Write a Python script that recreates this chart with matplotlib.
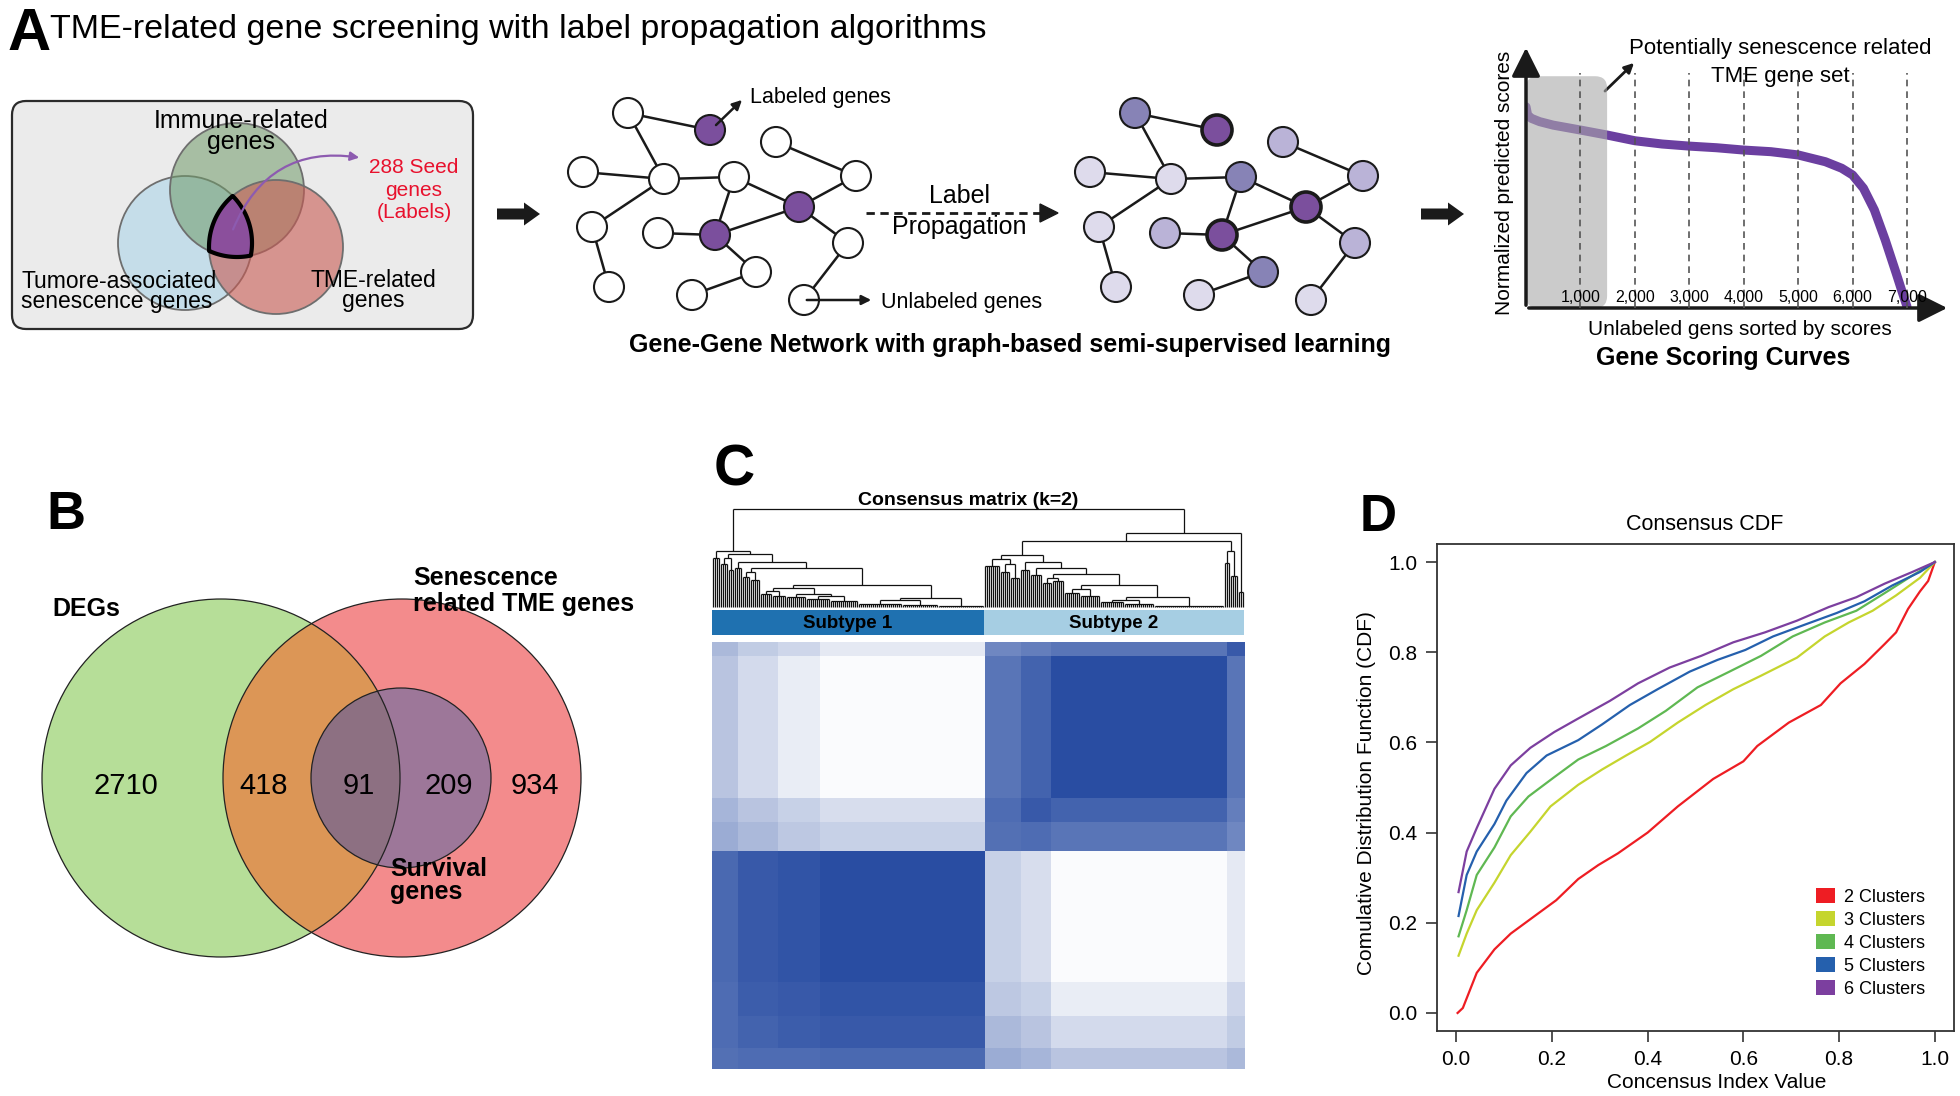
import numpy as np
import matplotlib
matplotlib.use("Agg")
import matplotlib.pyplot as plt
from matplotlib import font_manager
from matplotlib.patches import Circle, Polygon, FancyBboxPatch, FancyArrow, FancyArrowPatch, Patch
from matplotlib.collections import LineCollection
from matplotlib.colors import LinearSegmentedColormap, to_rgba


def font_ok(name):
    try:
        font_manager.findfont(font_manager.FontProperties(family=name), fallback_to_default=False)
        return True
    except ValueError:
        return False


SANS = "Liberation Sans" if font_ok("Liberation Sans") else "DejaVu Sans"
plt.rcParams["font.family"] = SANS

""" ----- data ----- """

# A - seed gene sets and the label propagation network
seed_sets = ["Immune-related\ngenes", "Tumore-associated\nsenescence genes", "TME-related\ngenes"]
seed_label = "288 Seed\ngenes\n(Labels)"
net_edges = [(0, 1), (0, 4), (3, 4), (4, 5), (4, 8), (8, 13), (5, 10), (5, 7),
             (2, 6), (6, 7), (7, 10), (9, 10), (10, 12), (12, 14), (7, 11), (11, 15)]
net_labeled = [1, 7, 10]
# shade of each node after propagation (0 = weak ... 3 = labeled)
net_propagated = [2, 3, 1, 0, 0, 2, 1, 3, 0, 1, 3, 1, 2, 0, 0, 0]

# A - gene scoring curve
score_rank = [0, 30, 100, 250, 500, 1000, 1500, 2000, 2500, 3000, 3500, 4000, 4500,
              5000, 5500, 5800, 6000, 6200, 6400, 6600, 6800, 6900, 7000]
score_value = [0.864, 0.828, 0.814, 0.80, 0.785, 0.764, 0.742, 0.718, 0.704, 0.695, 0.688, 0.678, 0.671,
               0.657, 0.628, 0.60, 0.571, 0.514, 0.421, 0.292, 0.15, 0.077, 0.006]
score_ticks = [1000, 2000, 3000, 4000, 5000, 6000, 7000]
score_tick_labels = ["1,000", "2,000", "3,000", "4,000", "5,000", "6,000", "7,000"]
top_set_end = 1490

# B - Venn
venn_names = ["DEGs", "Senescence\nrelated TME genes", "Survival\ngenes"]
venn_counts = [2710, 418, 91, 209, 934]

# C - consensus matrix (k=2), samples grouped along the dendrogram order
subtypes = ["Subtype 1", "Subtype 2"]
subtype_size = [136, 130]
group_size = [13, 20, 21, 82, 18, 15, 88, 9]
group_consensus = [
    [0.78, 0.80, 0.80, 0.82, 0.45, 0.40, 0.32, 0.38],
    [0.80, 0.85, 0.88, 0.90, 0.38, 0.32, 0.20, 0.28],
    [0.80, 0.88, 0.90, 0.93, 0.30, 0.25, 0.10, 0.22],
    [0.82, 0.90, 0.93, 0.97, 0.25, 0.18, 0.02, 0.12],
    [0.45, 0.38, 0.30, 0.25, 0.78, 0.80, 0.75, 0.65],
    [0.40, 0.32, 0.25, 0.18, 0.80, 0.90, 0.85, 0.70],
    [0.32, 0.20, 0.10, 0.02, 0.75, 0.85, 0.97, 0.75],
    [0.38, 0.28, 0.22, 0.12, 0.65, 0.70, 0.75, 0.90],
]
# dendrogram: [height, left, right]; (n leaves, height) = small bundle
dend_left = [0.57,
             (4, 0.50),
             [0.54,
              [0.50, (4, 0.44), (3, 0.38)],
              [0.46,
               (4, 0.40),
               [0.40,
                [0.36, (4, 0.31), (5, 0.28)],
                [0.22,
                 [0.19,
                  [0.16, (6, 0.13), (7, 0.11)],
                  [0.13, (10, 0.10), [0.11, (12, 0.08), (14, 0.06)]]],
                 [0.09, [0.07, (22, 0.03), (18, 0.02)], (23, 0.01)]]]]]]
dend_right = [0.76,
              [0.67,
               [0.53,
                [0.49, (8, 0.42), [0.44, (5, 0.36), (5, 0.30)]],
                [0.46, (5, 0.38),
                 [0.40, (6, 0.33),
                  [0.34,
                   [0.30, (5, 0.24), (6, 0.27)],
                   [0.22,
                    [0.18, (8, 0.14), (10, 0.11)],
                    [0.10, [0.07, (12, 0.05), (15, 0.03)], (35, 0.01)]]]]]],
               [0.57, (3, 0.45), (4, 0.32)]],
              (3, 0.15)]

# D - consensus CDF
cdf_k2_x = [0.003, 0.014, 0.043, 0.08, 0.114, 0.164, 0.209, 0.255, 0.297, 0.338, 0.40, 0.463, 0.537,
            0.60, 0.629, 0.695, 0.762, 0.803, 0.853, 0.895, 0.919, 0.944, 0.969, 0.986, 1.0]
cdf_k2_y = [0.0, 0.011, 0.089, 0.141, 0.176, 0.215, 0.25, 0.297, 0.328, 0.354, 0.40, 0.458, 0.519,
            0.558, 0.592, 0.644, 0.683, 0.731, 0.774, 0.818, 0.844, 0.896, 0.935, 0.958, 1.0]
cdf_k3_x = [0.005, 0.022, 0.043, 0.08, 0.114, 0.155, 0.197, 0.255, 0.305, 0.355, 0.405, 0.463, 0.521,
            0.579, 0.637, 0.712, 0.77, 0.82, 0.87, 0.919, 0.969, 1.0]
cdf_k3_y = [0.127, 0.176, 0.228, 0.289, 0.35, 0.402, 0.458, 0.506, 0.54, 0.571, 0.601, 0.644, 0.683,
            0.718, 0.748, 0.788, 0.835, 0.866, 0.892, 0.926, 0.965, 1.0]
cdf_k4_x = [0.005, 0.022, 0.043, 0.08, 0.114, 0.151, 0.205, 0.255, 0.313, 0.38, 0.438, 0.504, 0.571,
            0.637, 0.703, 0.77, 0.836, 0.895, 0.953, 1.0]
cdf_k4_y = [0.17, 0.228, 0.306, 0.367, 0.436, 0.48, 0.523, 0.562, 0.592, 0.631, 0.67, 0.722, 0.757,
            0.792, 0.835, 0.866, 0.892, 0.931, 0.97, 1.0]
cdf_k5_x = [0.005, 0.022, 0.043, 0.08, 0.105, 0.147, 0.189, 0.255, 0.305, 0.363, 0.421, 0.488, 0.546,
            0.604, 0.662, 0.728, 0.795, 0.853, 0.911, 0.969, 1.0]
cdf_k5_y = [0.215, 0.306, 0.358, 0.419, 0.471, 0.532, 0.571, 0.605, 0.64, 0.683, 0.718, 0.757, 0.783,
            0.805, 0.835, 0.861, 0.887, 0.913, 0.948, 0.978, 1.0]
cdf_k6_x = [0.005, 0.022, 0.043, 0.08, 0.114, 0.155, 0.205, 0.255, 0.321, 0.38, 0.446, 0.512, 0.579,
            0.645, 0.712, 0.778, 0.836, 0.895, 0.953, 1.0]
cdf_k6_y = [0.268, 0.358, 0.41, 0.497, 0.549, 0.588, 0.623, 0.653, 0.692, 0.731, 0.766, 0.792, 0.822,
            0.844, 0.87, 0.90, 0.922, 0.952, 0.978, 1.0]
cdf_labels = ["2 Clusters", "3 Clusters", "4 Clusters", "5 Clusters", "6 Clusters"]
cdf_ticks = [0.0, 0.2, 0.4, 0.6, 0.8, 1.0]
cdf_tick_labels = ["0.0", "0.2", "0.4", "0.6", "0.8", "1.0"]

""" ----- figure ----- """
W, H = 1960, 1096
fig = plt.figure(figsize=(W / 100, H / 100), dpi=100)
fig.patch.set_facecolor("white")

# overlay in pixel coordinates (y going down) for the schematic parts
ov = fig.add_axes([0, 0, 1, 1])
ov.set_xlim(0, W)
ov.set_ylim(H, 0)
ov.axis("off")


def px_axes(x0, y0, x1, y1):
    return fig.add_axes([x0 / W, 1 - y1 / H, (x1 - x0) / W, (y1 - y0) / H])


PURPLE = "#7b4f9d"

# ---------------- panel A ----------------
ov.text(8, 50, "A", fontsize=43, fontweight="bold", va="baseline")
ov.text(50, 38, "TME-related gene screening with label propagation algorithms", fontsize=24.5, va="baseline")

ov.add_patch(FancyBboxPatch((12, 101), 461, 228, boxstyle="round,pad=0,rounding_size=14",
                            fc="#ebebeb", ec="#2b2b2b", lw=1.6))

r_a = 67
cen_green, cen_blue, cen_red = (237, 190), (185, 243), (276, 247)
ov.add_patch(Circle(cen_blue, r_a, fc="#c5dde9", ec="#6e6e6e", lw=1.3))
ov.add_patch(Circle(cen_green, r_a, fc=to_rgba("#6f9a68", 0.55), ec="#6e6e6e", lw=1.3))
ov.add_patch(Circle(cen_red, r_a, fc=to_rgba("#c85a52", 0.6), ec="#6e6e6e", lw=1.3))

# common part of the three sets
tt = np.linspace(0, 2 * np.pi, 2000)
cents = [cen_green, cen_blue, cen_red]
pts = []
for i, c in enumerate(cents):
    ring = np.c_[c[0] + r_a * np.cos(tt), c[1] + r_a * np.sin(tt)]
    keep = np.ones(len(ring), bool)
    for j, c2 in enumerate(cents):
        if j != i:
            keep &= np.hypot(ring[:, 0] - c2[0], ring[:, 1] - c2[1]) <= r_a
    pts.append(ring[keep])
pts = np.vstack(pts)
cc = pts.mean(0)
pts = pts[np.argsort(np.arctan2(pts[:, 1] - cc[1], pts[:, 0] - cc[0]))]
ov.add_patch(Polygon(pts, closed=True, fc="#8b4f9c", ec="black", lw=3, joinstyle="round", zorder=3))

ov.add_patch(FancyArrowPatch((232, 232), (362, 158), connectionstyle="arc3,rad=-0.4",
                             arrowstyle="-|>", mutation_scale=13, color="#8d5bb0", lw=1.6, zorder=4))

ov.text(241, 149, seed_sets[0], fontsize=18, ha="center", va="baseline", linespacing=0.85)
ov.text(21, 308, seed_sets[1], fontsize=16.5, va="baseline", linespacing=0.82)
ov.text(373, 307, seed_sets[2], fontsize=16.5, ha="center", va="baseline", linespacing=0.85, multialignment="center")
ov.text(414, 218, seed_label, fontsize=15, color="#e8112d", ha="center", va="baseline",
        linespacing=1.22, multialignment="center")

# big black arrows
for x0 in (497, 1421):
    ov.add_patch(FancyArrow(x0, 214, 43, 0, width=11, head_width=23, head_length=16,
                            length_includes_head=True, color="#1a1a1a", lw=0))

# networks
node_xy = [(628, 113), (710, 130), (776, 142), (583, 172), (664, 179), (734, 177), (856, 176),
           (799, 207), (592, 227), (658, 233), (715, 235), (848, 243), (756, 272), (609, 287),
           (692, 295), (804, 300)]
shade_col = ["#dedbec", "#bab3d7", "#8783b6", PURPLE]
for dx in (0, 507):
    for a, b in net_edges:
        ov.plot([node_xy[a][0] + dx, node_xy[b][0] + dx], [node_xy[a][1], node_xy[b][1]],
                color="#1a1a1a", lw=1.8, zorder=2)
    for i, (x, y) in enumerate(node_xy):
        if dx == 0:
            fc = PURPLE if i in net_labeled else "white"
            lw = 1.5
        else:
            fc = shade_col[net_propagated[i]]
            lw = 2.6 if net_propagated[i] == 3 else 1.5
        ov.add_patch(Circle((x + dx, y), 15, fc=fc, ec="#1a1a1a", lw=lw, zorder=3))

ov.annotate("", xy=(744, 98), xytext=(714, 127),
            arrowprops=dict(arrowstyle="-|>", color="#1a1a1a", lw=1.8, mutation_scale=14), zorder=4)
ov.text(750, 103, "Labeled genes", fontsize=15.5, va="baseline")
ov.annotate("", xy=(874, 300), xytext=(804, 300),
            arrowprops=dict(arrowstyle="-|>", color="#1a1a1a", lw=1.8, mutation_scale=14), zorder=4)
ov.text(881, 308, "Unlabeled genes", fontsize=15.5, va="baseline")

ov.plot([866, 1042], [213, 213], color="#1a1a1a", lw=2, ls=(0, (3, 2)))
ov.add_patch(Polygon([[1040, 204], [1058, 213], [1040, 222]], closed=True, color="#1a1a1a"))
ov.text(959, 203, "Label", fontsize=18, ha="center", va="baseline")
ov.text(959, 234, "Propagation", fontsize=18, ha="center", va="baseline")
ov.text(1010, 352, "Gene-Gene Network with graph-based semi-supervised learning",
        fontsize=18, fontweight="bold", ha="center", va="baseline")

# gene scoring curve
ax_s = px_axes(1526, 45, 1950, 308)
ax_s.set_facecolor("none")
ax_s.set_xlim(0, 7790)
ax_s.set_ylim(0, 1.129)
for sp in ax_s.spines.values():
    sp.set_visible(False)
ax_s.set_xticks([])
ax_s.set_yticks([])
ax_s.plot(score_rank, score_value, color="#6b3fa0", lw=6.5, solid_capstyle="round", zorder=2)
asp = (1 / 233) / (1000 / 54.43)
ax_s.add_patch(FancyBboxPatch((0, 0), top_set_end, 0.995, boxstyle="round,pad=0,rounding_size=220",
                              mutation_aspect=asp, fc="#a9a9a9", ec="none", alpha=0.6, zorder=3))
for t, lab in zip(score_ticks, score_tick_labels):
    ax_s.plot([t, t], [0, 1.01], color="#555555", lw=1.2, ls=(0, (4, 3)), zorder=4)
    ax_s.text(t, 0.043, lab, fontsize=11.5, ha="center", va="center", zorder=5)
arrow_kw = dict(arrowstyle="-|>,head_length=0.8,head_width=0.4", lw=2.5, color="#1a1a1a", mutation_scale=22)
ax_s.annotate("", xy=(0, 1), xytext=(0, 0), xycoords="axes fraction", arrowprops=arrow_kw)
ax_s.annotate("", xy=(1, 0), xytext=(0, 0), xycoords="axes fraction", arrowprops=arrow_kw)

ov.text(1780, 54, "Potentially senescence related", fontsize=16, ha="center", va="baseline")
ov.text(1780, 82, "TME gene set", fontsize=16, ha="center", va="baseline")
ov.annotate("", xy=(1636, 61), xytext=(1603, 93),
            arrowprops=dict(arrowstyle="-|>", color="#1a1a1a", lw=2, mutation_scale=14))
ov.text(1504, 183, "Normalized predicted scores", fontsize=15, rotation=90, ha="center", va="center")
ov.text(1740, 335, "Unlabeled gens sorted by scores", fontsize=15, ha="center", va="baseline")
ov.text(1723, 365, "Gene Scoring Curves", fontsize=18, fontweight="bold", ha="center", va="baseline")

# ---------------- panel B ----------------
ov.text(46, 529, "B", fontsize=39, fontweight="bold", va="baseline")
cen_deg, cen_tme, cen_surv = (221, 778), (402, 778), (401, 778)
r_big, r_small = 179, 90
c_deg = Circle(cen_deg, r_big, fc="#b6de98", ec="none")
c_tme = Circle(cen_tme, r_big, fc="#f38b8c", ec="none")
ov.add_patch(c_deg)
ov.add_patch(c_tme)
lens = Circle(cen_deg, r_big, fc="#dc9656", ec="none")
ov.add_patch(lens)
lens.set_clip_path(c_tme)
ov.add_patch(Circle(cen_surv, r_small, fc="#9d7799", ec="none"))
surv_in = Circle(cen_surv, r_small, fc="#8d7082", ec="none")
ov.add_patch(surv_in)
surv_in.set_clip_path(c_deg)
for c, r in ((cen_deg, r_big), (cen_tme, r_big), (cen_surv, r_small)):
    ov.add_patch(Circle(c, r, fc="none", ec="#222222", lw=0.9, zorder=3))

for x, n in zip([126, 264, 359, 449, 535], venn_counts):
    ov.text(x, 794, str(n), fontsize=21, ha="center", va="baseline", zorder=4)
ov.text(52, 616, venn_names[0], fontsize=18, fontweight="bold", va="baseline", zorder=4)
ov.text(413, 611, venn_names[1], fontsize=18, fontweight="bold", va="baseline", linespacing=1.1, zorder=4)
ov.text(390, 899, venn_names[2], fontsize=18, fontweight="bold", va="baseline", linespacing=0.95, zorder=4)

# ---------------- panel C ----------------
ov.text(714, 486, "C", fontsize=41, fontweight="bold", va="baseline")
ov.text(968, 505, "Consensus matrix (k=2)", fontsize=14, fontweight="bold", ha="center", va="baseline")

n_samples = sum(group_size)


def build_tree(node, start, segs):
    if isinstance(node, tuple):
        n, hb = node
        xs = start + 0.5 + np.arange(n)
        for x in xs:
            segs.append([(x, 0), (x, hb)])
        if n > 1:
            segs.append([(xs[0], hb), (xs[-1], hb)])
        return xs.mean(), hb, start + n
    h, left, right = node
    xl, hl, start = build_tree(left, start, segs)
    xr, hr, start = build_tree(right, start, segs)
    segs += [[(xl, hl), (xl, h)], [(xr, hr), (xr, h)], [(xl, h), (xr, h)]]
    return (xl + xr) / 2, h, start


segs = []
build_tree([1.0, dend_left, dend_right], 0, segs)
ax_d = px_axes(712, 509, 1244, 607)
ax_d.add_collection(LineCollection(segs, colors="#111111", lw=0.9, clip_on=False))
ax_d.set_xlim(0, n_samples)
ax_d.set_ylim(0, 1)
ax_d.axis("off")

ax_b = px_axes(712, 610, 1244, 635)
ax_b.broken_barh([(0, subtype_size[0]), (subtype_size[0], subtype_size[1])], (0, 1),
                 facecolors=["#1f71b0", "#a6cee3"])
ax_b.set_xlim(0, n_samples)
ax_b.set_ylim(0, 1)
ax_b.axis("off")
ax_b.text(subtype_size[0] / 2, 0.45, subtypes[0], fontsize=13.5, fontweight="bold", ha="center", va="center")
ax_b.text(subtype_size[0] + subtype_size[1] / 2, 0.45, subtypes[1], fontsize=13.5, fontweight="bold",
          ha="center", va="center")

cons = np.repeat(np.repeat(np.array(group_consensus), group_size, axis=0), group_size, axis=1)
ax_h = px_axes(712, 642, 1244, 1069)
ax_h.imshow(cons, origin="lower", aspect="auto", interpolation="nearest", vmin=0, vmax=1,
            cmap=LinearSegmentedColormap.from_list("cons", ["white", "#2348a0"]),
            extent=(0, n_samples, 0, n_samples))
ax_h.axis("off")

# ---------------- panel D ----------------
ov.text(1360, 531, "D", fontsize=37, fontweight="bold", va="baseline")
ov.text(1705, 530, "Consensus CDF", fontsize=15.5, ha="center", va="baseline")
ax_c = px_axes(1437, 544, 1954, 1031)
cdf_series = [(cdf_k2_x, cdf_k2_y), (cdf_k3_x, cdf_k3_y), (cdf_k4_x, cdf_k4_y),
              (cdf_k5_x, cdf_k5_y), (cdf_k6_x, cdf_k6_y)]
cdf_colors = ["#ee1d23", "#c5d52e", "#5fb852", "#2560ad", "#7c3f9f"]
for (xs, ys), col in zip(cdf_series, cdf_colors):
    ax_c.plot(xs, ys, color=col, lw=1.6)
ax_c.set_xlim(-0.04, 1.04)
ax_c.set_ylim(-0.04, 1.04)
ax_c.set_xticks(cdf_ticks, cdf_tick_labels)
ax_c.set_yticks(cdf_ticks, cdf_tick_labels)
ax_c.tick_params(direction="out", length=8, width=1.2, labelsize=15, pad=6, color="#333333")
for sp in ax_c.spines.values():
    sp.set_linewidth(1.3)
    sp.set_color("#333333")
ax_c.legend(handles=[Patch(fc=c, ec="none") for c in cdf_colors], labels=cdf_labels,
            loc="lower right", bbox_to_anchor=(0.945, 0.068), frameon=False, fontsize=13,
            handlelength=1.1, handleheight=0.95, handletextpad=0.5, labelspacing=0.28,
            borderpad=0, borderaxespad=0)
ov.text(1717, 1088, "Concensus Index Value", fontsize=15, ha="center", va="baseline")
ov.text(1366, 793, "Comulative Distribution Function (CDF)", fontsize=15, rotation=90,
        ha="center", va="center")

fig.savefig("out.png", dpi=100, facecolor="white")
